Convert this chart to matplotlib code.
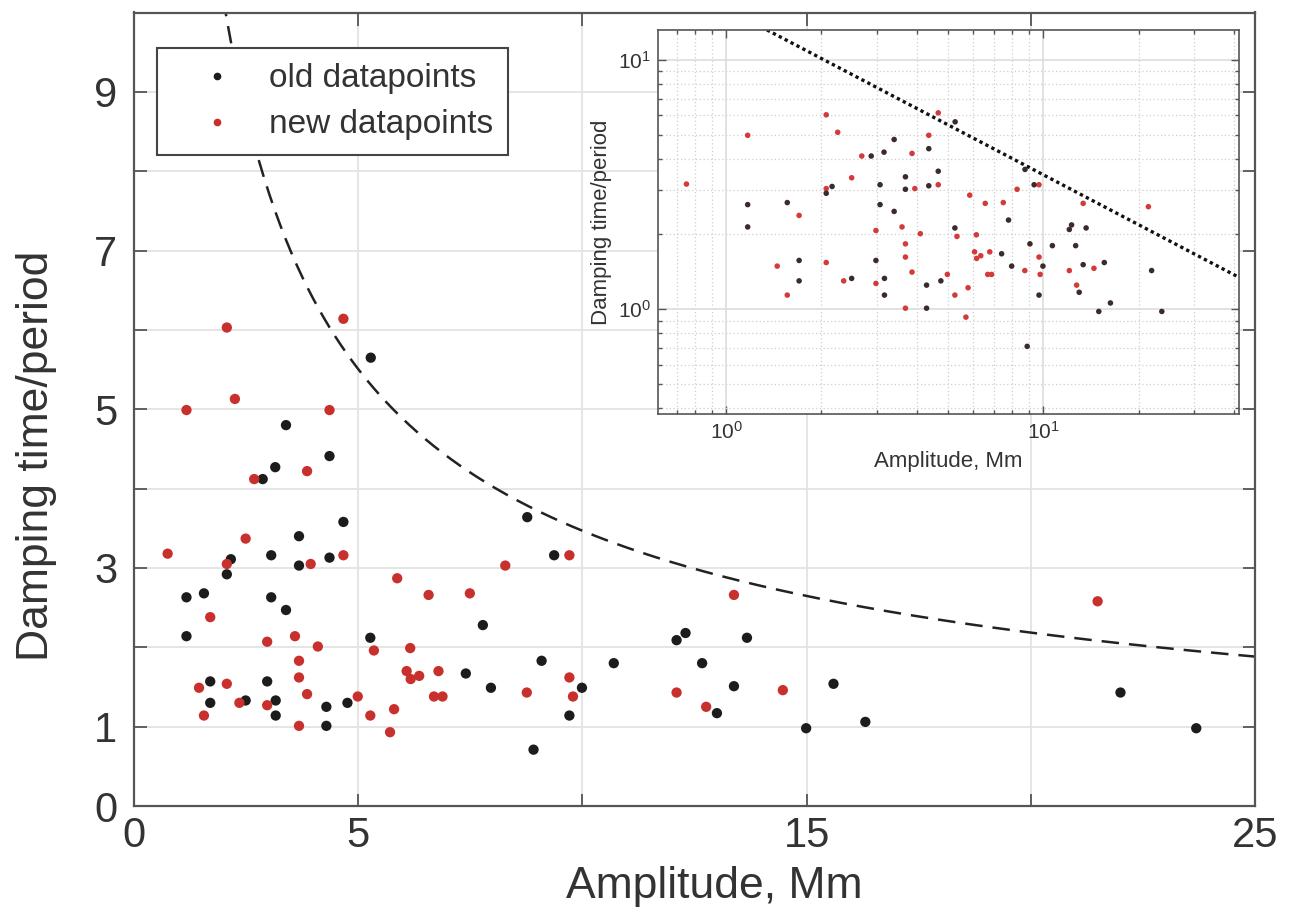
import numpy as np
import matplotlib
matplotlib.use("Agg")
import matplotlib.pyplot as plt
from matplotlib.lines import Line2D
from matplotlib.ticker import LogLocator, NullFormatter, FixedLocator

plt.rcParams['font.family'] = ['Liberation Sans', 'DejaVu Sans']
plt.rcParams['mathtext.fontset'] = 'custom'
plt.rcParams['mathtext.rm'] = 'Liberation Sans'
plt.rcParams['mathtext.it'] = 'Liberation Sans:italic'
plt.rcParams['mathtext.bf'] = 'Liberation Sans:bold'

# ---------------- data ----------------
old_amp = [5.28, 3.39, 4.36, 3.15, 2.87, 4.67, 3.68, 2.16, 3.06, 4.36, 3.68, 2.07,
           1.17, 1.56, 3.06, 3.39, 1.17, 5.27, 1.70, 2.97, 1.70, 2.49, 3.16, 3.16,
           4.29, 4.29, 4.76, 8.77, 9.37, 7.78, 12.10, 12.30, 13.67, 9.09, 10.70,
           12.67, 7.40, 7.96, 9.99, 9.71, 8.91, 13.00, 13.38, 15.60, 22.00, 14.99,
           16.31, 23.69]
old_damp = [5.65, 4.80, 4.41, 4.27, 4.12, 3.58, 3.40, 3.11, 3.16, 3.13, 3.03, 2.92,
            2.63, 2.68, 2.63, 2.47, 2.14, 2.12, 1.57, 1.57, 1.30, 1.33, 1.33, 1.14,
            1.25, 1.01, 1.30, 3.64, 3.16, 2.28, 2.09, 2.18, 2.12, 1.83, 1.80,
            1.80, 1.67, 1.49, 1.49, 1.14, 0.71, 1.17, 1.51, 1.54, 1.43, 0.98,
            1.06, 0.98]

new_amp = [2.07, 4.67, 2.25, 1.17, 4.36, 3.86, 2.68, 2.49, 0.75, 4.67, 2.07, 3.94,
           1.70, 2.97, 3.59, 4.10, 5.35, 5.87, 6.16, 6.57, 3.68, 3.68, 1.45, 2.07,
           2.35, 2.97, 1.56, 3.86, 3.68, 4.99, 5.27, 5.80, 5.71, 6.08, 6.17, 6.36,
           6.69, 6.88, 6.79, 9.71, 8.28, 7.49, 13.38, 8.76, 9.71, 9.79, 12.10,
           12.76, 14.47, 21.49]
new_damp = [6.03, 6.14, 5.13, 4.99, 4.99, 4.22, 4.12, 3.37, 3.18, 3.16, 3.05, 3.05,
            2.38, 2.07, 2.14, 2.01, 1.96, 2.87, 1.99, 2.66, 1.83, 1.62, 1.49, 1.54,
            1.30, 1.27, 1.14, 1.41, 1.01, 1.38, 1.14, 1.22, 0.93, 1.70, 1.60, 1.64,
            1.38, 1.38, 1.70, 3.16, 3.03, 2.68, 2.66, 1.43, 1.62, 1.38, 1.43,
            1.25, 1.46, 2.58]

# upper-limit curve: damping/period = CURVE_COEF * amplitude ** CURVE_EXP
CURVE_COEF = 16.1
CURVE_EXP = -2.0 / 3.0

x_ticks = [0, 5, 10, 15, 20, 25]
x_ticklabels = ['0', '5', '', '15', '', '25']
y_ticks = [0, 1, 2, 3, 4, 5, 6, 7, 8, 9]
y_ticklabels = ['0', '1', '', '3', '', '5', '', '7', '', '9']

OLD_C = '#1c1c1c'
NEW_C = '#c8302e'
FRAME_C = '#555555'
TEXT_C = '#333333'
GRID_C = '#e3e3e3'

fig = plt.figure(figsize=(12.89, 9.14), dpi=100)

# ---------------- main axes ----------------
ax = fig.add_axes([134 / 1289, 1 - 806 / 914, (1255 - 134) / 1289, (806 - 12.5) / 914])
ax.set_xlim(0, 25)
ax.set_ylim(0, 10)
ax.set_xticks(x_ticks)
ax.set_xticklabels(x_ticklabels)
ax.set_yticks(y_ticks)
ax.set_yticklabels(y_ticklabels)
ax.grid(True, color=GRID_C, lw=1.3, zorder=0)
ax.set_axisbelow(True)
ax.tick_params(direction='in', length=9, width=1.3, colors=FRAME_C, labelcolor=TEXT_C,
               labelsize=30, top=True, right=True)
ax.tick_params(axis='y', pad=12)
ax.tick_params(axis='x', pad=7)
for s in ax.spines.values():
    s.set_color(FRAME_C)
    s.set_linewidth(1.6)

xc = np.linspace(0.5, 25, 400)
ax.plot(xc, CURVE_COEF * xc ** CURVE_EXP, color='#222222', lw=1.8,
        linestyle=(0, (7, 4)), zorder=2)

ax.scatter(old_amp, old_damp, s=55, color=OLD_C, edgecolors='none', zorder=3)
ax.scatter(new_amp, new_damp, s=55, color=NEW_C, edgecolors='none', zorder=3)

ax.set_xlabel('Amplitude, Mm', fontsize=32, color=TEXT_C)
ax.set_ylabel('Damping time/period', fontsize=32, color=TEXT_C)
ax.xaxis.set_label_coords(0.518, -0.075)
ax.yaxis.set_label_coords(-0.069, 0.441)

handles = [Line2D([], [], ls='none', marker='o', ms=4.5, color=OLD_C),
           Line2D([], [], ls='none', marker='o', ms=4.5, color=NEW_C)]
leg = ax.legend(handles, ['old datapoints', 'new datapoints'], loc='upper left',
                bbox_to_anchor=(0.0205, 0.955), borderaxespad=0, fontsize=24,
                frameon=True, fancybox=False, framealpha=1, handlelength=2.7,
                handletextpad=0.2, borderpad=0.45, labelspacing=0.45,
                labelcolor=TEXT_C)
leg.get_frame().set_edgecolor('#444444')
leg.get_frame().set_linewidth(1.5)
leg.set_zorder(5)

# ---------------- inset ----------------
ins = fig.add_axes([658 / 1289, 1 - 414 / 914, (1239 - 658) / 1289, (414 - 30) / 914])
ins.set_xscale('log')
ins.set_yscale('log')
ins.set_xlim(0.61, 41.5)
ins.set_ylim(0.38, 13.2)
ins.xaxis.set_major_locator(FixedLocator([1, 10]))
ins.yaxis.set_major_locator(FixedLocator([1, 10]))
ins.xaxis.set_minor_locator(LogLocator(base=10, subs=np.arange(2, 10)))
ins.yaxis.set_minor_locator(LogLocator(base=10, subs=np.arange(2, 10)))
ins.xaxis.set_minor_formatter(NullFormatter())
ins.yaxis.set_minor_formatter(NullFormatter())
ins.grid(True, which='major', color='#dddddd', lw=1.2)
ins.grid(True, which='minor', color='#cfcfcf', lw=0.9, linestyle=(0, (1, 2)))
ins.set_axisbelow(True)
ins.tick_params(which='both', direction='in', top=True, right=True, colors=FRAME_C,
                labelcolor=TEXT_C, width=1.0)
ins.tick_params(which='major', length=6, labelsize=15, pad=5)
ins.tick_params(which='minor', length=3)
for s in ins.spines.values():
    s.set_color(FRAME_C)
    s.set_linewidth(1.2)

xi = np.logspace(np.log10(0.61), np.log10(41.5), 300)
ins.plot(xi, CURVE_COEF * xi ** CURVE_EXP, color='#111111', lw=2.4,
         linestyle=(0, (1, 1)), zorder=2)
ins.scatter(new_amp, new_damp, s=16, color='#d43a3a', edgecolors='none', zorder=3)
ins.scatter(old_amp, old_damp, s=16, color='#3b2b2b', edgecolors='none', zorder=3)

ins.set_xlabel('Amplitude, Mm', fontsize=16, color=TEXT_C, labelpad=6)
ins.set_ylabel('Damping time/period', fontsize=16, color=TEXT_C, labelpad=4)

fig.savefig('out.png', dpi=100)
